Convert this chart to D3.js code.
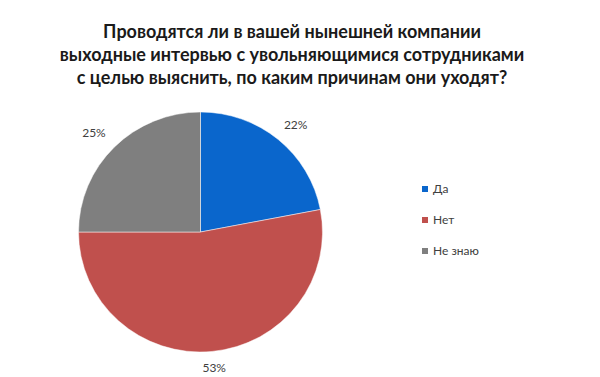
<!DOCTYPE html>
<html>
<head>
<meta charset="utf-8">
<script src="https://cdn.jsdelivr.net/npm/d3@7"></script>
<style>
  body { margin: 0; background: #fff; }
  svg { display: block; font-family: Lato, "Open Sans", sans-serif; }
</style>
</head>
<body>
<svg id="chart"></svg>
<script>
const width = 600;
const height = 377;

// data
const categories = ["Да", "Нет", "Не знаю"];
const values = [22, 53, 25];
const colors = ["#0a66cc", "#c0504d", "#7f7f7f"];
const titleLines = [
  "Проводятся ли в вашей нынешней компании",
  "выходные интервью с увольняющимися сотрудниками",
  "с целью выяснить, по каким причинам они уходят?"
];

const svg = d3.select("#chart")
  .attr("width", width)
  .attr("height", height);

// --- title ---
svg.append("g")
  .selectAll("text")
  .data(titleLines)
  .join("text")
  .attr("x", 292)
  .attr("y", (d, i) => 38 + i * 23)
  .attr("text-anchor", "middle")
  .attr("font-size", 18)
  .attr("font-weight", "bold")
  .attr("fill", "#1a1a1a")
  .text(d => d);

// --- pie (picture is slightly squashed vertically) ---
const cx = 200.5, cy = 232, rx = 122, ry = 120;
const data = categories.map((c, i) => ({ name: c, value: values[i], color: colors[i] }));

const pie = d3.pie().sort(null).value(d => d.value);
const arc = d3.arc().innerRadius(0).outerRadius(rx);
const arcs = pie(data);

const g = svg.append("g").attr("transform", `translate(${cx},${cy})`);

g.append("g")
  .attr("transform", `scale(1, ${ry / rx})`)
  .selectAll("path")
  .data(arcs)
  .join("path")
  .attr("d", arc)
  .attr("fill", d => d.data.color)
  .attr("stroke", "#fff")
  .attr("stroke-width", 0.5);

// outside-end labels, like the spreadsheet does
const gap = 12;
const labels = g.selectAll("text.lbl")
  .data(arcs)
  .join("text")
  .attr("class", "lbl")
  .attr("text-anchor", "middle")
  .attr("dy", "0.35em")
  .attr("font-size", 12)
  .attr("fill", "#404040")
  .text(d => d.data.value + "%");

labels.each(function(d) {
  const a = (d.startAngle + d.endAngle) / 2;
  const ux = Math.sin(a), uy = -Math.cos(a);
  const w = this.getComputedTextLength(), h = 12;
  const m = Math.max(Math.abs(ux), Math.abs(uy));
  let x = rx * ux + gap * ux + (ux / m) * w / 2;
  let y = ry * uy + gap * uy + (uy / m) * h / 2;
  // keep inside the chart area
  y = Math.min(y, height - 9 - cy);
  d3.select(this).attr("x", x).attr("y", y);
});

// --- legend ---
const legend = svg.append("g").attr("transform", "translate(422, 189)");
const items = legend.selectAll("g")
  .data(data)
  .join("g")
  .attr("transform", (d, i) => `translate(0, ${i * 31})`);

items.append("rect")
  .attr("x", 0)
  .attr("y", -3)
  .attr("width", 6)
  .attr("height", 6)
  .attr("fill", d => d.color);

items.append("text")
  .attr("x", 11)
  .attr("dy", "0.35em")
  .attr("font-size", 12)
  .attr("fill", "#404040")
  .text(d => d.name);
</script>
</body>
</html>
